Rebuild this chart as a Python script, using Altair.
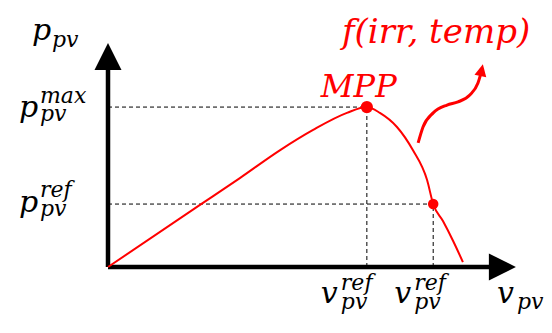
import altair as alt
import pandas as pd

# ---- data (conceptual units: v on 0-100, p on 0-100) ----
curve_v = [0, 22.6, 32.4, 42.3, 50.4, 58.7, 63.6, 66.8, 71.0, 74.9, 78.4, 79.9, 82.3, 84.8, 87.2]
curve_p = [0, 27.7, 39.7, 52.2, 61.2, 68.8, 71.4, 68.8, 62.5, 52.2, 38.8, 28.1, 20.5, 11.6, 2.2]

mpp_v, mpp_p = 63.6, 71.4
ref_v, ref_p = 79.9, 28.1

arrow_v = [76.2, 77.4, 79.9, 83.3, 86.0, 88.9, 90.9, 91.6]
arrow_p = [55.4, 62.5, 68.8, 72.3, 73.7, 76.8, 82.1, 86.2]
arrow_head = (91.8, 87.9)

yaxis_top = 88.0
xaxis_end = 93.9
yhead = (0, 94.0)
xhead = (96.9, 0)

FONT = "DejaVu Serif"
RED = "#ff0000"

xs = alt.Scale(domain=[0, 100], nice=False, zero=False)
ys = alt.Scale(domain=[0, 100], nice=False, zero=False)


def X(f="v"):
    return alt.X(f"{f}:Q", scale=xs, axis=None)


def Y(f="p"):
    return alt.Y(f"{f}:Q", scale=ys, axis=None)


layers = []

# dashed guide lines
dash = pd.DataFrame({
    "v": [0, 0, mpp_v, ref_v],
    "p": [mpp_p, ref_p, 0, 0],
    "v2": [mpp_v, ref_v, mpp_v, ref_v],
    "p2": [mpp_p, ref_p, mpp_p, ref_p],
})
layers.append(
    alt.Chart(dash).mark_rule(color="black", strokeWidth=1, strokeDash=[4, 3]).encode(
        x=X(), y=Y(), x2="v2:Q", y2="p2:Q"
    )
)

# axes
axes = pd.DataFrame({"v": [0, 0], "p": [0, 0], "v2": [0, xaxis_end], "p2": [yaxis_top, 0]})
layers.append(
    alt.Chart(axes).mark_rule(color="black", strokeWidth=4.5).encode(
        x=X(), y=Y(), x2="v2:Q", y2="p2:Q"
    )
)
heads = pd.DataFrame({"v": [yhead[0], xhead[0]], "p": [yhead[1], xhead[1]], "ang": [0, 90]})
layers.append(
    alt.Chart(heads).mark_point(
        shape="M0,-1L1,1L-1,1Z", filled=True, color="black", opacity=1, size=729, strokeWidth=0
    ).encode(x=X(), y=Y(), angle=alt.Angle("ang:Q", scale=None))
)

# PV curve
curve = pd.DataFrame({"v": curve_v, "p": curve_p, "o": list(range(len(curve_v)))})
layers.append(
    alt.Chart(curve).mark_line(color=RED, strokeWidth=2, interpolate="monotone").encode(
        x=X(), y=Y(), order="o:Q"
    )
)

# points
pts = pd.DataFrame({"v": [mpp_v, ref_v], "p": [mpp_p, ref_p], "s": [150, 110]})
layers.append(
    alt.Chart(pts).mark_circle(color=RED, opacity=1).encode(
        x=X(), y=Y(), size=alt.Size("s:Q", scale=None)
    )
)

# curvy arrow
arr = pd.DataFrame({"v": arrow_v, "p": arrow_p, "o": list(range(len(arrow_v)))})
layers.append(
    alt.Chart(arr).mark_line(color=RED, strokeWidth=3, interpolate="monotone").encode(
        x=X(), y=Y(), order="o:Q"
    )
)
ah = pd.DataFrame({"v": [arrow_head[0]], "p": [arrow_head[1]]})
layers.append(
    alt.Chart(ah).mark_point(
        shape="M0,-1L1,1L-1,1Z", filled=True, color=RED, opacity=1, size=144, strokeWidth=0, angle=12
    ).encode(x=X(), y=Y())
)


def txt(df, text, size, x, y, color="black", dx=0, dy=0):
    return alt.Chart(df).mark_text(
        text=text, font=FONT, fontStyle="italic", fontSize=size, color=color,
        align="left", baseline="alphabetic", dx=dx, dy=dy
    ).encode(x=x, y=y)


one = pd.DataFrame({"v": [0], "p": [0]})
mppdf = pd.DataFrame({"v": [mpp_v], "p": [mpp_p]})
refdf = pd.DataFrame({"v": [ref_v], "p": [ref_p]})

MAIN, SCR = 30, 22

# y-axis title
layers.append(txt(one, "p", MAIN, alt.value(-76), alt.value(-3)))
layers.append(txt(one, "pv", SCR, alt.value(-56), alt.value(4)))
# p max
layers.append(txt(mppdf, "p", MAIN, alt.value(-89), Y(), dy=10))
layers.append(txt(mppdf, "max", SCR, alt.value(-68), Y(), dy=-4))
layers.append(txt(mppdf, "pv", SCR, alt.value(-68), Y(), dy=14))
# p ref
layers.append(txt(refdf, "p", MAIN, alt.value(-89), Y(), dy=8))
layers.append(txt(refdf, "ref", SCR, alt.value(-68), Y(), dy=-7))
layers.append(txt(refdf, "pv", SCR, alt.value(-68), Y(), dy=12))
# v ref (MPP)
layers.append(txt(mppdf, "v", MAIN, X(), alt.value(260), dx=-46))
layers.append(txt(mppdf, "ref", SCR, X(), alt.value(247), dx=-26))
layers.append(txt(mppdf, "pv", SCR, X(), alt.value(266), dx=-26))
# v ref (ref point)
layers.append(txt(refdf, "v", MAIN, X(), alt.value(260), dx=-39))
layers.append(txt(refdf, "ref", SCR, X(), alt.value(247), dx=-19))
layers.append(txt(refdf, "pv", SCR, X(), alt.value(266), dx=-19))
# x-axis title
layers.append(txt(one, "v", MAIN, alt.value(389), alt.value(260)))
layers.append(txt(one, "pv", SCR, alt.value(409), alt.value(266)))
# MPP label
layers.append(txt(mppdf, "MPP", 32, X(), Y(), color=RED, dx=-46, dy=-10))
# f(irr, temp)
layers.append(txt(one, "f(irr, temp)", 34, alt.value(234), alt.value(0), color=RED))

chart = alt.layer(*layers).properties(
    width=407, height=224,
    autosize=alt.AutoSizeParams(type="none"),
    padding={"left": 100, "top": 35, "right": 29, "bottom": 50},
    background="white",
).configure_view(stroke=None)

chart.save("out.html", embed_options={"renderer": "svg", "actions": False})
